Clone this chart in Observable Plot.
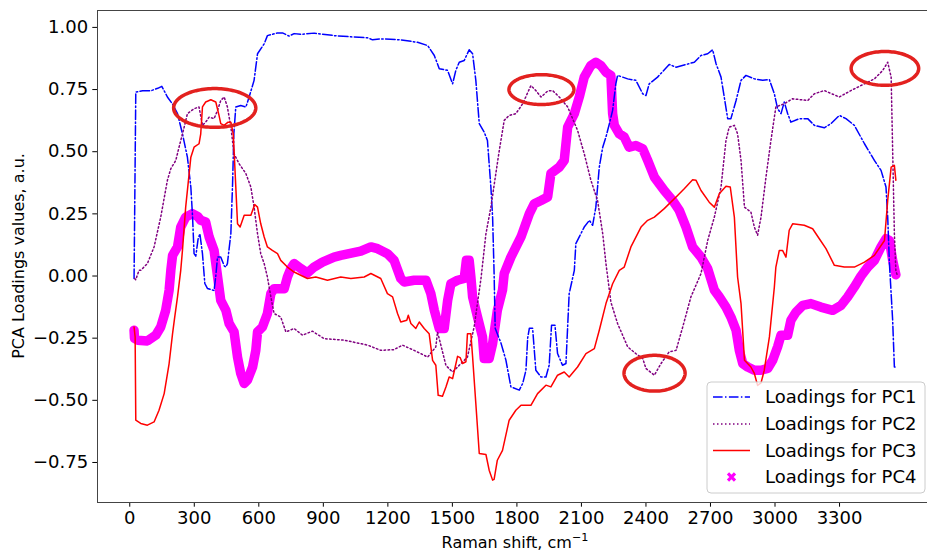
<!DOCTYPE html>
<html>
<head>
<meta charset="utf-8">
<script src="https://cdn.jsdelivr.net/npm/d3@7"></script>
<script src="https://cdn.jsdelivr.net/npm/@observablehq/plot@0.6"></script>
<style>
  html, body { margin: 0; padding: 0; background: white; }
  #chart { width: 927px; height: 552px; overflow: hidden; }
</style>
</head>
<body>
<div id="chart"></div>
<script>
// ---------- data (Raman shift cm^-1, loading value) ----------
const pc1 = [[20,-0.01],[28,0.74],[60,0.745],[98,0.745],[130,0.755],[149,0.763],[160,0.745],[175,0.72],[200,0.69],[222,0.653],[245,0.572],[268,0.478],[284,0.358],[292,0.237],[299,0.09],[307,0.08],[318,0.15],[326,0.17],[338,0.09],[349,-0.03],[361,-0.05],[392,-0.058],[400,0.0],[408,0.076],[423,0.076],[440,0.04],[447,0.036],[454,0.05],[470,0.17],[478,0.37],[484,0.573],[493,0.68],[516,0.686],[540,0.68],[555,0.72],[578,0.787],[594,0.894],[625,0.934],[640,0.967],[687,0.978],[710,0.978],[741,0.965],[764,0.975],[795,0.972],[857,0.977],[950,0.967],[1030,0.962],[1106,0.958],[1129,0.95],[1167,0.954],[1260,0.95],[1338,0.94],[1385,0.927],[1416,0.887],[1439,0.834],[1478,0.827],[1501,0.773],[1516,0.827],[1532,0.86],[1555,0.867],[1578,0.91],[1594,0.894],[1609,0.787],[1625,0.613],[1648,0.579],[1663,0.545],[1679,0.358],[1687,0.237],[1694,0.01],[1699,-0.21],[1726,-0.27],[1749,-0.339],[1772,-0.446],[1811,-0.459],[1827,-0.432],[1842,-0.379],[1850,-0.25],[1858,-0.21],[1873,-0.21],[1888,-0.379],[1912,-0.406],[1935,-0.406],[1950,-0.359],[1961,-0.198],[1977,-0.198],[1989,-0.312],[2012,-0.359],[2028,-0.352],[2043,-0.071],[2067,0.023],[2074,0.13],[2113,0.197],[2137,0.224],[2152,0.204],[2167,0.277],[2183,0.438],[2199,0.518],[2214,0.559],[2230,0.613],[2245,0.666],[2260,0.773],[2268,0.807],[2315,0.793],[2353,0.787],[2385,0.733],[2400,0.726],[2415,0.773],[2454,0.8],[2508,0.851],[2540,0.84],[2625,0.86],[2656,0.887],[2687,0.894],[2710,0.91],[2726,0.854],[2749,0.8],[2764,0.72],[2780,0.633],[2795,0.633],[2819,0.706],[2842,0.787],[2865,0.807],[2904,0.793],[2943,0.787],[2974,0.79],[2997,0.733],[3012,0.673],[3028,0.653],[3043,0.7],[3059,0.653],[3074,0.619],[3113,0.633],[3152,0.633],[3183,0.606],[3229,0.596],[3260,0.613],[3299,0.646],[3330,0.633],[3369,0.606],[3416,0.532],[3462,0.465],[3493,0.425],[3516,0.358],[3524,0.237],[3532,0.05],[3547,-0.178],[3555,-0.366],[3562,-0.366]];

const pc2 = [[23,-0.01],[28,-0.015],[43,0.023],[51,0.023],[82,0.05],[113,0.117],[144,0.237],[175,0.385],[191,0.432],[214,0.465],[229,0.518],[253,0.599],[268,0.653],[299,0.673],[322,0.68],[338,0.606],[353,0.619],[369,0.639],[392,0.633],[408,0.666],[423,0.706],[439,0.72],[454,0.68],[470,0.599],[485,0.492],[508,0.452],[540,0.412],[563,0.358],[578,0.277],[594,0.17],[609,0.09],[625,0.05],[640,-0.004],[656,-0.084],[671,-0.151],[702,-0.165],[726,-0.225],[764,-0.211],[803,-0.238],[849,-0.222],[904,-0.252],[997,-0.258],[1106,-0.278],[1167,-0.299],[1229,-0.296],[1268,-0.278],[1322,-0.299],[1385,-0.326],[1423,-0.285],[1431,-0.225],[1447,-0.28],[1470,-0.36],[1501,-0.386],[1570,-0.326],[1601,-0.205],[1633,-0.01],[1656,0.17],[1679,0.277],[1702,0.412],[1718,0.505],[1741,0.626],[1764,0.646],[1795,0.653],[1827,0.693],[1865,0.766],[1888,0.746],[1912,0.72],[1943,0.744],[1966,0.746],[1997,0.72],[2036,0.68],[2082,0.586],[2113,0.492],[2144,0.385],[2175,0.304],[2199,0.17],[2214,0.05],[2237,-0.105],[2268,-0.191],[2315,-0.285],[2353,-0.312],[2385,-0.332],[2400,-0.372],[2439,-0.399],[2470,-0.352],[2508,-0.305],[2540,-0.299],[2571,-0.205],[2609,-0.084],[2656,0.01],[2687,0.143],[2718,0.237],[2749,0.358],[2772,0.545],[2787,0.599],[2811,0.606],[2826,0.572],[2842,0.465],[2858,0.277],[2888,0.257],[2904,0.197],[2919,0.164],[2935,0.237],[2958,0.398],[2981,0.545],[3004,0.68],[3043,0.693],[3082,0.713],[3152,0.706],[3183,0.733],[3229,0.746],[3299,0.72],[3353,0.746],[3416,0.773],[3462,0.793],[3501,0.827],[3524,0.86],[3540,0.8],[3547,0.505],[3555,0.17],[3562,0.02],[3570,0.0]];

const pc3 = [[20,-0.205],[25,-0.245],[28,-0.58],[51,-0.593],[82,-0.6],[113,-0.587],[136,-0.54],[160,-0.473],[183,-0.352],[199,-0.232],[209,-0.165],[222,-0.084],[237,0.023],[245,0.103],[260,0.277],[284,0.478],[299,0.518],[322,0.532],[330,0.572],[338,0.68],[353,0.7],[377,0.709],[400,0.7],[415,0.646],[423,0.613],[439,0.606],[457,0.619],[470,0.619],[481,0.572],[485,0.505],[493,0.358],[501,0.21],[513,0.197],[532,0.244],[563,0.244],[581,0.288],[594,0.277],[609,0.21],[625,0.157],[640,0.117],[663,0.103],[687,0.09],[702,0.063],[733,0.036],[764,0.016],[795,0.003],[826,-0.01],[865,-0.004],[919,-0.017],[981,-0.004],[1028,-0.01],[1090,-0.004],[1121,0.01],[1167,-0.01],[1198,-0.071],[1222,-0.084],[1245,-0.151],[1260,-0.185],[1288,-0.178],[1295,-0.158],[1307,-0.191],[1330,-0.211],[1346,-0.185],[1369,-0.211],[1392,-0.232],[1408,-0.339],[1423,-0.359],[1434,-0.48],[1454,-0.484],[1470,-0.446],[1485,-0.406],[1501,-0.413],[1513,-0.366],[1524,-0.323],[1536,-0.328],[1547,-0.352],[1563,-0.345],[1570,-0.232],[1586,-0.232],[1594,-0.326],[1609,-0.513],[1625,-0.714],[1656,-0.718],[1671,-0.781],[1687,-0.821],[1694,-0.818],[1709,-0.741],[1733,-0.701],[1764,-0.58],[1795,-0.54],[1819,-0.52],[1865,-0.52],[1896,-0.473],[1935,-0.439],[1958,-0.446],[1989,-0.399],[2020,-0.386],[2043,-0.406],[2082,-0.366],[2121,-0.312],[2160,-0.292],[2183,-0.218],[2214,-0.111],[2245,-0.031],[2276,0.023],[2299,0.036],[2330,0.117],[2377,0.197],[2408,0.224],[2439,0.237],[2485,0.271],[2547,0.324],[2578,0.351],[2617,0.387],[2633,0.385],[2656,0.344],[2694,0.297],[2718,0.277],[2741,0.331],[2772,0.361],[2792,0.358],[2811,0.237],[2826,-0.004],[2842,-0.111],[2858,-0.339],[2888,-0.366],[2904,-0.392],[2919,-0.44],[2935,-0.43],[2950,-0.379],[2974,-0.245],[2997,-0.044],[3004,0.036],[3020,0.103],[3035,0.103],[3051,0.076],[3066,0.184],[3082,0.21],[3136,0.204],[3175,0.19],[3206,0.15],[3237,0.11],[3276,0.043],[3322,0.036],[3369,0.036],[3416,0.056],[3462,0.083],[3509,0.143],[3524,0.304],[3540,0.438],[3555,0.445],[3562,0.385]];

const pc4 = [[20,-0.218],[22,-0.25],[36,-0.258],[82,-0.261],[121,-0.238],[144,-0.205],[167,-0.138],[183,-0.057],[191,0.023],[199,0.083],[222,0.117],[237,0.197],[260,0.237],[291,0.251],[315,0.24],[330,0.224],[353,0.217],[369,0.157],[392,0.103],[408,0.0],[423,-0.098],[447,-0.138],[462,-0.191],[485,-0.225],[501,-0.326],[516,-0.392],[532,-0.432],[547,-0.419],[571,-0.366],[586,-0.299],[594,-0.225],[617,-0.205],[640,-0.151],[656,-0.071],[671,-0.051],[718,-0.051],[733,-0.004],[749,0.03],[764,0.05],[795,0.03],[826,0.012],[857,0.036],[896,0.056],[950,0.076],[981,0.083],[1074,0.1],[1121,0.117],[1152,0.11],[1198,0.09],[1229,0.063],[1260,-0.01],[1276,-0.024],[1322,-0.017],[1377,-0.017],[1400,-0.071],[1416,-0.138],[1439,-0.211],[1462,-0.211],[1478,-0.098],[1493,-0.031],[1524,-0.017],[1555,-0.01],[1565,0.063],[1578,0.063],[1586,-0.004],[1594,-0.084],[1617,-0.165],[1640,-0.245],[1648,-0.332],[1671,-0.332],[1687,-0.272],[1709,-0.138],[1733,-0.057],[1741,0.01],[1772,0.076],[1819,0.157],[1858,0.251],[1881,0.291],[1912,0.304],[1943,0.318],[1958,0.412],[1997,0.438],[2020,0.465],[2036,0.599],[2067,0.653],[2090,0.72],[2113,0.8],[2144,0.847],[2167,0.86],[2190,0.847],[2214,0.82],[2237,0.807],[2245,0.653],[2253,0.606],[2276,0.572],[2299,0.559],[2322,0.518],[2353,0.525],[2385,0.512],[2408,0.465],[2439,0.398],[2485,0.344],[2524,0.304],[2555,0.264],[2586,0.197],[2617,0.117],[2656,0.076],[2687,0.03],[2718,-0.057],[2741,-0.084],[2772,-0.125],[2795,-0.165],[2819,-0.218],[2834,-0.299],[2850,-0.352],[2873,-0.366],[2904,-0.379],[2935,-0.379],[2966,-0.372],[2989,-0.339],[3012,-0.285],[3028,-0.238],[3059,-0.238],[3074,-0.178],[3098,-0.145],[3129,-0.118],[3167,-0.111],[3213,-0.125],[3268,-0.138],[3307,-0.118],[3338,-0.084],[3369,-0.044],[3400,0.0],[3431,0.036],[3462,0.063],[3493,0.117],[3516,0.15],[3532,0.143],[3547,0.063],[3562,0.005]];

// highlighted regions (centre & half-widths, data units)
const highlightCx = [395, 1914, 3511, 2440];
const highlightCy = [0.676, 0.750, 0.835, -0.391];
const highlightRx = [191, 151, 157, 142];
const highlightRy = [0.078, 0.060, 0.068, 0.072];

const xTicks = [0, 300, 600, 900, 1200, 1500, 1800, 2100, 2400, 2700, 3000, 3300];
const yTicks = [-0.75, -0.5, -0.25, 0, 0.25, 0.5, 0.75, 1.0];
const seriesNames = ["Loadings for PC1", "Loadings for PC2", "Loadings for PC3", "Loadings for PC4"];
const xLabel = "Raman shift, cm";
const xLabelSup = "\u22121";
const yLabel = "PCA Loadings values, a.u.";

const xDomain = [-150, 3709];
const yDomain = [-0.911, 1.068];

// ---------- build ----------
const ellipsePts = [];
highlightCx.forEach((cx, i) => {
  for (let a = 0; a <= 360; a += 3) {
    const t = a * Math.PI / 180;
    ellipsePts.push({id: i, x: cx + highlightRx[i] * Math.cos(t), y: highlightCy[i] + highlightRy[i] * Math.sin(t)});
  }
});

const X = d => d[0], Y = d => d[1];
const lw = 1.5;
const tickFont = 18;
const legendFont = 18;
const labelFont = 16;

const chart = Plot.plot({
  width: 927,
  height: 552,
  marginLeft: 97,
  marginRight: 0,
  marginTop: 10,
  marginBottom: 50,
  style: {fontFamily: "DejaVu Sans", fontSize: "16px", color: "black", background: "white"},
  x: {domain: xDomain, label: null},
  y: {domain: yDomain, label: null},
  marks: [
    Plot.axisX(xTicks, {tickSize: 4.7, tickPadding: 4.5, fontSize: tickFont, label: null, tickFormat: d => String(d)}),
    Plot.axisY(yTicks, {tickSize: 4.7, tickPadding: 4.7, fontSize: tickFont, label: null, tickFormat: d3.format(".2f")}),
    Plot.line(pc4, {x: X, y: Y, stroke: "#ff00ff", strokeWidth: 9.5, strokeLinejoin: "round", strokeLinecap: "round"}),
    Plot.line(pc1, {x: X, y: Y, stroke: "#0000ff", strokeWidth: lw, strokeDasharray: "9.6,2.4,1.5,2.4"}),
    Plot.line(pc2, {x: X, y: Y, stroke: "#800080", strokeWidth: lw, strokeDasharray: "1.5,2.5"}),
    Plot.line(pc3, {x: X, y: Y, stroke: "#ff0000", strokeWidth: lw}),
    Plot.line(ellipsePts, {x: "x", y: "y", z: "id", stroke: "#e3211f", strokeWidth: 3.5, curve: "linear-closed"}),
    Plot.ruleX([xDomain[0]], {stroke: "#444", strokeWidth: 1}),
    Plot.ruleY([yDomain[0], yDomain[1]], {stroke: "#444", strokeWidth: 1})
  ]
});

document.getElementById("chart").appendChild(chart);

// ---------- axis labels & legend (drawn into the same SVG) ----------
const svg = d3.select(chart);
const xs = chart.scale("x");
const plotTop = 10, plotBottom = 502;
const xCenter = (xs.apply(xDomain[0]) + xs.apply(3737)) / 2;

const xl = svg.append("text")
  .attr("x", xCenter).attr("y", 548)
  .attr("text-anchor", "middle")
  .attr("font-family", "DejaVu Sans").attr("font-size", labelFont).attr("fill", "black")
  .text(xLabel);
xl.append("tspan").attr("font-size", 11.2).attr("dy", -7).text(xLabelSup);

svg.append("text")
  .attr("transform", `translate(24,${(plotTop + plotBottom) / 2}) rotate(-90)`)
  .attr("text-anchor", "middle")
  .attr("font-family", "DejaVu Sans").attr("font-size", labelFont).attr("fill", "black")
  .text(yLabel);

// legend
const lg = svg.append("g").attr("text-anchor", "start");
const boxX = 707, boxY = 382, boxW = 218, boxH = 111;
lg.append("rect").attr("x", boxX).attr("y", boxY).attr("width", boxW).attr("height", boxH)
  .attr("rx", 4).attr("fill", "white").attr("fill-opacity", 0.8)
  .attr("stroke", "#cccccc").attr("stroke-width", 1);
const rowY = [397, 424, 450.5, 477];
const styles = [
  {stroke: "#0000ff", dash: "9.6,2.4,1.5,2.4"},
  {stroke: "#800080", dash: "1.5,2.5"},
  {stroke: "#ff0000", dash: null},
  {marker: true, stroke: "#ff00ff"}
];
seriesNames.forEach((name, i) => {
  const s = styles[i];
  if (s.marker) {
    lg.append("path").attr("d", d3.symbol(d3.symbolX, 34)())
      .attr("transform", `translate(731.5,${rowY[i]})`)
      .attr("stroke", s.stroke).attr("stroke-width", 3.2).attr("fill", "none");
  } else {
    const l = lg.append("line").attr("x1", 713).attr("x2", 750).attr("y1", rowY[i]).attr("y2", rowY[i])
      .attr("stroke", s.stroke).attr("stroke-width", lw);
    if (s.dash) l.attr("stroke-dasharray", s.dash);
  }
  lg.append("text").attr("x", 765).attr("y", rowY[i]).attr("dy", "0.36em")
    .attr("text-anchor", "start")
    .attr("font-family", "DejaVu Sans").attr("font-size", legendFont).attr("fill", "black")
    .text(name);
});
</script>
</body>
</html>
